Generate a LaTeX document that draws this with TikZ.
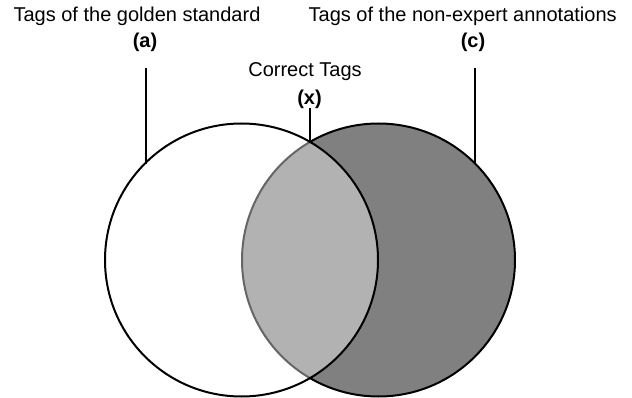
\documentclass[tikz,border=0pt]{standalone}
\usepackage{fontspec}
\setmainfont{Liberation Sans}
\begin{document}
\begin{tikzpicture}[x=1pt,y=-1pt,
  lbl/.style={anchor=base,inner sep=0pt,font=\fontsize{20}{24}\selectfont},
  blbl/.style={lbl,font=\fontsize{20}{24}\selectfont\bfseries},
  leader/.style={line width=2pt},
  ring/.style={line width=2pt}]
\useasboundingbox (0,0) rectangle (632,398);
% right circle (non-expert)
\fill[fill={rgb,255:red,128;green,128;blue,128}] (378.5,260) circle[radius=136.5];
\draw[ring] (378.5,260) circle[radius=136.5];
% left circle (golden) with translucent white fill
\fill[white,opacity=0.4] (241.5,260) circle[radius=136.5];
\draw[ring] (241.5,260) circle[radius=136.5];
% labels
\node[lbl] (ta) at (137,21.7) {Tags of the golden standard};
\node[blbl] (a) at (145,48) {(a)};
\node[lbl] (tc) at (462.7,21.7) {Tags of the non-expert annotations};
\node[blbl] (c) at (473,48) {(c)};
\node[lbl] (tx) at (305,76.7) {Correct Tags};
\node[blbl] (x) at (309.5,105) {(x)};
% leaders
\coordinate (a1) at (145.5,68);
\coordinate (a2) at (145.5,164);
\coordinate (c1) at (475,68);
\coordinate (c2) at (475,164);
\coordinate (x1) at (310,108);
\coordinate (x2) at (310,143);
\draw[leader] (a1) -- (a2);
\draw[leader] (c1) -- (c2);
\draw[leader] (x1) -- (x2);
\end{tikzpicture}
\end{document}
